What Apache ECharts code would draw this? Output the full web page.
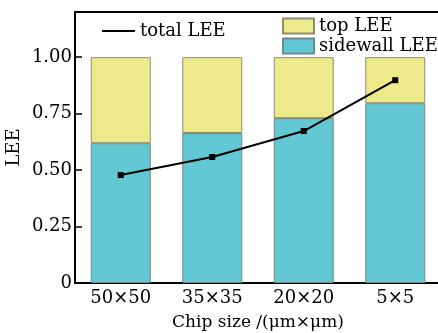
<!DOCTYPE html>
<html>
<head>
<meta charset="utf-8">
<script src="https://cdn.jsdelivr.net/npm/echarts@6/dist/echarts.min.js"></script>
<style>
html,body{margin:0;padding:0;background:#fff;}
#main{width:438px;height:333px;}
</style>
</head>
<body>
<div id="main"></div>
<script>
// 数据
var chipSizes=['50×50','35×35','20×20','5×5'];
var sidewallLee=[0.619,0.664,0.730,0.796];
var topLee=[0.381,0.336,0.270,0.204];
var totalLee=[0.478,0.558,0.673,0.898];

var font='DejaVu Serif';
var myChart=echarts.init(document.getElementById('main'),null,{renderer:'canvas'});
var option={
	backgroundColor:'#ffffff',
	animation:false,
	textStyle:{fontFamily:font,color:'#000'},
	grid:{left:75,top:12,width:366,height:271,outerBoundsMode:'none',containLabel:false,
		show:true,borderColor:'#000',borderWidth:2,backgroundColor:'transparent'},
	legend:[{
		data:[{name:'total LEE',icon:'rect'}],
		left:97,top:17,
		itemWidth:33,itemHeight:2,itemGap:7,
		textStyle:{fontFamily:font,fontSize:18,color:'#000'}
	},{
		data:[{name:'top LEE',icon:'rect'},{name:'sidewall LEE',icon:'rect'}],
		orient:'vertical',
		left:277,top:12,
		itemWidth:31,itemHeight:15,itemGap:2,
		textStyle:{fontFamily:font,fontSize:18,color:'#000'}
	}],
	xAxis:{
		type:'category',
		data:chipSizes,
		name:'Chip size /(μm×μm)',
		nameLocation:'middle',
		nameGap:31,
		nameMoveOverlap:false,
		nameTextStyle:{fontFamily:font,fontSize:17,color:'#000'},
		axisLine:{lineStyle:{color:'#000',width:2}},
		axisTick:{inside:true,length:10,alignWithLabel:true,lineStyle:{color:'#000',width:1.5}},
		axisLabel:{fontFamily:font,fontSize:18,color:'#000',margin:6},
		splitLine:{show:false}
	},
	yAxis:{
		type:'value',
		min:0,max:1.2,interval:0.25,
		name:'LEE',
		nameLocation:'middle',
		nameGap:52,
		nameMoveOverlap:false,
		nameTextStyle:{fontFamily:font,fontSize:18,color:'#000'},
		axisLine:{show:true,lineStyle:{color:'#000',width:2}},
		axisTick:{show:true,inside:true,length:7,lineStyle:{color:'#000',width:1.5}},
		axisLabel:{fontFamily:font,fontSize:18,color:'#000',margin:3,
			formatter:function(v){
				if(v>1.001) return '';
				return v===0?'0':v.toFixed(2);
			}},
		splitLine:{show:false}
	},
	series:[{
		name:'sidewall LEE',
		type:'bar',
		stack:'lee',
		barWidth:60,
		data:sidewallLee,
		itemStyle:{color:'#62c8d3',borderColor:'#6f8a8c',borderWidth:1}
	},{
		name:'top LEE',
		type:'bar',
		stack:'lee',
		barWidth:60,
		data:topLee,
		itemStyle:{color:'#ecea8b',borderColor:'#8c8c72',borderWidth:1}
	},{
		name:'total LEE',
		type:'line',
		data:totalLee,
		symbol:'rect',
		symbolSize:6,
		lineStyle:{color:'#000',width:2},
		itemStyle:{color:'#000'}
	}]
};
myChart.setOption(option);
</script>
</body>
</html>
